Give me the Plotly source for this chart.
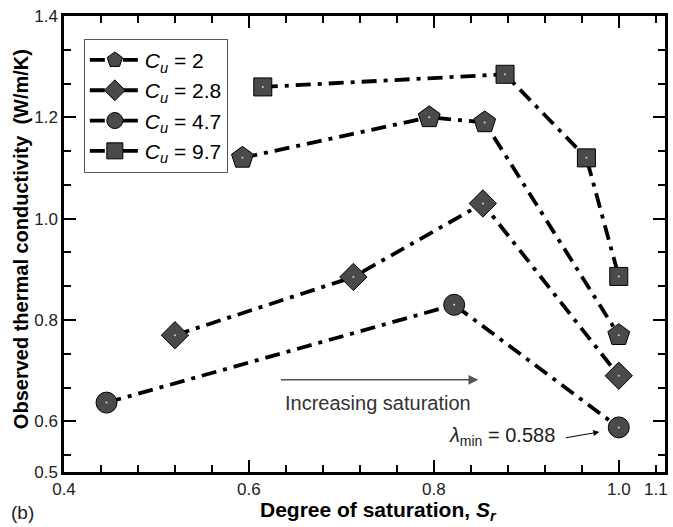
import numpy as np
import plotly.graph_objects as go

# Degree of saturation (Sr) and observed thermal conductivity (W/m/K) per Cu
sr_cu2 = [0.593, 0.795, 0.855, 1.0]
k_cu2 = [1.12, 1.20, 1.19, 0.77]

sr_cu28 = [0.52, 0.713, 0.853, 1.0]
k_cu28 = [0.77, 0.885, 1.03, 0.69]

sr_cu47 = [0.446, 0.822, 1.0]
k_cu47 = [0.637, 0.83, 0.588]

sr_cu97 = [0.615, 0.877, 0.965, 1.0]
k_cu97 = [1.26, 1.285, 1.12, 0.886]

cu_labels = ["2", "2.8", "4.7", "9.7"]
x_ticks = [0.4, 0.6, 0.8, 1.0]
x_tick_text = ["0.4", "0.6", "0.8", "1.0"]
y_ticks = [0.5, 0.6, 0.8, 1.0, 1.2, 1.4]
y_tick_text = ["0.5", "0.6", "0.8", "1.0", "1.2", "1.4"]

FONT = "Liberation Sans, Arial, sans-serif"
FILL = "#4a4a4a"
DASH = "15px,7px,4px,7px"

series = [
    (sr_cu2, k_cu2, "pentagon", 23),
    (sr_cu28, k_cu28, "diamond", 21),
    (sr_cu47, k_cu47, "circle", 21),
    (sr_cu97, k_cu97, "square", 18),
]

fig = go.Figure()
for (xs, ys, sym, size), cu in zip(series, cu_labels):
    fig.add_trace(go.Scatter(
        x=xs, y=ys, mode="lines+markers",
        name=f"<i>C</i><sub><i>u</i></sub> = {cu}",
        line=dict(color="black", width=3.8, dash=DASH),
        marker=dict(symbol=sym, size=size, color=FILL,
                    line=dict(color="black", width=1)),
    ))
for xs, ys, sym, size in series:
    # small light dot at the centre of each marker
    fig.add_trace(go.Scatter(
        x=xs, y=ys, mode="markers", showlegend=False, hoverinfo="skip",
        marker=dict(symbol="circle", size=2, color="#d0d0d0"),
    ))

x_minor = [round(v, 3) for v in np.arange(0.44, 1.041, 0.04) if round(v, 3) not in (0.6, 0.8, 1.0)]
y_minor = [round(v, 4) for v in np.arange(0.6 - 0.2 / 3, 1.4, 0.2 / 3)
           if all(abs(v - t) > 1e-3 for t in y_ticks)]

axis_common = dict(
    showline=True, linecolor="black", linewidth=2.5, mirror="ticks",
    ticks="inside", ticklen=12, tickwidth=2, tickcolor="black",
    showgrid=False, zeroline=False,
    tickfont=dict(family=FONT, size=17, color="#222"),
)

fig.update_xaxes(
    range=[0.4, 1.05], tickmode="array", tickvals=x_ticks, ticktext=x_tick_text,
    minor=dict(tickmode="array", tickvals=x_minor, ticks="inside", ticklen=7,
               tickwidth=2, tickcolor="black"),
    **axis_common,
)
fig.update_yaxes(
    range=[0.5, 1.4], tickmode="array", tickvals=y_ticks, ticktext=y_tick_text,
    minor=dict(tickmode="array", tickvals=y_minor, ticks="inside", ticklen=7,
               tickwidth=2, tickcolor="black"),
    **axis_common,
)

k_min = min(k_cu47)
annotations = [
    # x-axis title
    dict(text="<b>Degree of saturation, <i>S</i><sub><i>r</i></sub></b>",
         xref="paper", yref="paper", x=0.5236, y=-0.085, showarrow=False,
         xanchor="center", yanchor="middle", font=dict(family=FONT, size=21, color="black")),
    # y-axis title
    dict(text="<b>Observed thermal conductivity&nbsp;&nbsp;(W/m/K)</b>",
         xref="paper", yref="paper", x=-0.0713, y=0.511, textangle=-90, showarrow=False,
         xanchor="center", yanchor="middle", font=dict(family=FONT, size=20, color="black")),
    # last x tick label at the right edge
    dict(text="1.1", xref="x", yref="paper", x=1.04, y=-0.038, showarrow=False,
         xanchor="center", yanchor="middle", font=dict(family=FONT, size=17, color="#222")),
    dict(text="(b)", xref="paper", yref="paper", x=-0.092, y=-0.088, showarrow=False,
         xanchor="left", yanchor="middle", font=dict(family=FONT, size=19, color="#222")),
    # saturation direction arrow
    dict(text="", xref="x", yref="y", axref="x", ayref="y",
         x=0.848, y=0.682, ax=0.633, ay=0.682, showarrow=True,
         arrowhead=2, arrowsize=1.3, arrowwidth=1.5, arrowcolor="#555"),
    dict(text="Increasing saturation", xref="x", yref="y", x=0.74, y=0.636,
         showarrow=False, xanchor="center", yanchor="middle",
         font=dict(family=FONT, size=20, color="#333")),
    # minimum conductivity label
    dict(text=f"<i>λ</i><sub>min</sub> = {k_min:.3f}", xref="x", yref="y", x=0.874, y=0.570,
         showarrow=False, xanchor="center", yanchor="middle",
         font=dict(family=FONT, size=20, color="#222")),
    dict(text="", xref="x", yref="y", axref="x", ayref="y",
         x=0.979, y=0.579, ax=0.941, ay=0.567, showarrow=True,
         arrowhead=2, arrowsize=1.2, arrowwidth=1, arrowcolor="black"),
]

fig.update_layout(
    width=673, height=527,
    margin=dict(l=64, r=5, t=16, b=55),
    paper_bgcolor="white", plot_bgcolor="white",
    font=dict(family=FONT, size=16, color="black"),
    showlegend=True,
    legend=dict(x=0.033, y=0.95, xanchor="left", yanchor="top",
                bgcolor="white", bordercolor="#555", borderwidth=1,
                font=dict(family=FONT, size=21, color="black"),
                itemwidth=50, tracegroupgap=0),
    annotations=annotations,
)

fig.write_html("out.html")
